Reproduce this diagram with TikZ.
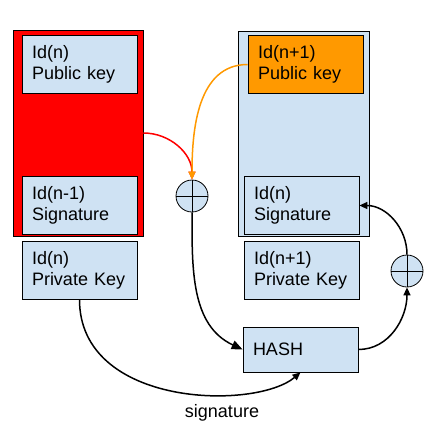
\documentclass[tikz,border=0pt]{standalone}
\usepackage{fontspec}
\setmainfont{Liberation Sans}
\usetikzlibrary{arrows.meta}

\definecolor{boxblue}{HTML}{CFE2F3}
\definecolor{keyorange}{HTML}{FF9900}

\tikzset{
    keybox/.style={draw=black,fill=boxblue,line width=0.8pt,
        minimum width=115pt,minimum height=53pt,text width=95pt,
        align=left,inner sep=10pt},
    block/.style={draw=black,line width=0.8pt},
    xorsign/.style={circle,draw=black,fill=boxblue,line width=0.8pt,
        minimum size=32pt,inner sep=0pt,
        path picture={\draw[line width=0.8pt]
            (path picture bounding box.north) -- (path picture bounding box.south)
            (path picture bounding box.west) -- (path picture bounding box.east);}},
    link/.style={->,line width=1.5pt}
}

\begin{document}
\begin{tikzpicture}[>={Triangle[length=8pt,width=7pt]},x=1pt,y=-1pt,
        font=\fontsize{18}{20.5}\selectfont]
    \useasboundingbox (0,0) rectangle (442,434);
    % blocks
    \node[block,fill=red,minimum width=130pt,minimum height=206pt] (blockn) at (78,133) {};
    \node[block,fill=boxblue,minimum width=131pt,minimum height=205pt] (blockn1) at (303.5,133.5) {};
    % keys and signatures
    \node[keybox] (pubn) at (79.5,64.5) {Id(n)\\Public key};
    \node[keybox] (sign1) at (79.5,205.5) {Id(n-1)\\Signature};
    \node[keybox] (privn) at (79.5,270.5) {Id(n)\\Private Key};
    \node[keybox,fill=keyorange] (pubn1) at (305.5,64.5) {Id(n+1)\\Public key};
    \node[keybox] (sign) at (301.5,205.5) {Id(n)\\Signature};
    \node[keybox] (privn1) at (301.5,270.5) {Id(n+1)\\Private Key};
    \node[keybox,minimum height=45pt] (hash) at (300.5,349.5) {HASH};
    \node[xorsign] (xorl) at (192,196) {};
    \node[xorsign] (xorr) at (407,271) {};
    \node (siglabel) at (222,413) {signature};
    % links
    \draw[link,red] (blockn.east) to[out=0,in=90] (xorl.north);
    \draw[link,keyorange] (pubn1.west) to[out=180,in=90] (xorl.north);
    \draw[link,>={Triangle[length=11pt,width=9pt]}] (xorl.south) to[out=-90,in=155] (hash.west);
    \draw[link] (privn.south) ..
        controls +(0,108) and +(-45,38) ..
        (hash.south);
    \draw[link] (hash.east) to[out=0,in=-90] (xorr.south);
    \draw[link] (xorr.north) to[out=90,in=0] (sign.east);
\end{tikzpicture}
\end{document}
